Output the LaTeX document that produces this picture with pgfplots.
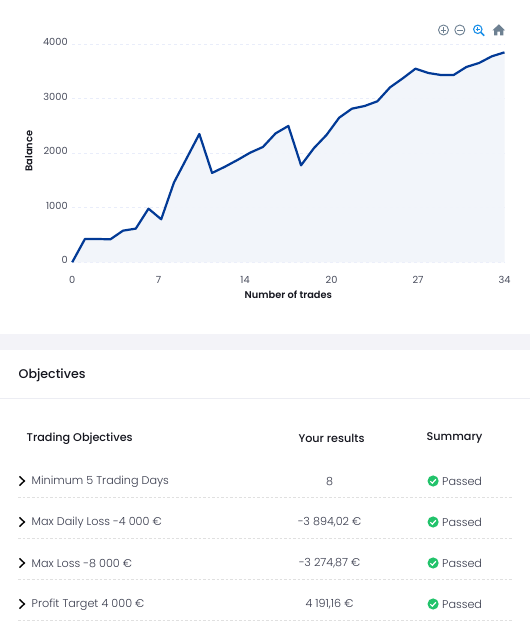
\documentclass[border=0pt]{standalone}
\usepackage{pgfplots}
\usepackage{pgfplotstable}
\usepackage{fontspec}
\pgfplotsset{compat=1.18}
\setmainfont{Poppins}[BoldFont={Poppins SemiBold}]
\newfontfamily\plight{Poppins Light}
\newfontfamily\pmed{Poppins Medium}
\definecolor{linec}{HTML}{023A96}
\definecolor{areac}{HTML}{F2F5FA}
\definecolor{gridc}{HTML}{E9EDFA}
\definecolor{tickc}{HTML}{4A4E5E}
\definecolor{rowc}{HTML}{383B4C}
\definecolor{okc}{HTML}{22C36B}
\definecolor{iconc}{HTML}{6E8192}
\definecolor{bandc}{HTML}{F3F3F8}
\definecolor{rulec}{HTML}{ECEDF3}
\definecolor{headc}{HTML}{15161F}
\definecolor{zoomc}{HTML}{1A8FE8}
\pgfplotstableread{
x y
0 0
1 427
2 427
3 421
4 580
5 617
6 983
7 788
8 1460
9 1905
10 2351
11 1637
12 1750
13 1875
14 2009
15 2113
16 2363
17 2498
18 1777
19 2089
20 2333
21 2650
22 2815
23 2864
24 2950
25 3206
26 3371
27 3548
28 3469
29 3432
30 3432
31 3579
32 3652
33 3774
34 3847
}\balance
\begin{document}
\begin{tikzpicture}[x=1pt,y=1pt]
\path[fill=white] (0,0) rectangle (529,625);
\begin{axis}[
  at={(71.7pt,362.7pt)},anchor=south west,
  scale only axis,width=432.3pt,height=218.3pt,
  xmin=0,xmax=34,ymin=0,ymax=4000,clip=false,
  axis line style={draw=none},tick style={draw=none},
  axis on top=false,
  xtick={0,6.8,13.6,20.4,27.2,34},xticklabels={0,7,14,20,27,34},
  ytick={0,1000,2000,3000,4000},
  ymajorgrids,
  grid style={gridc,dash pattern=on 3pt off 3pt,line width=0.7pt},
  tick label style={font=\fontsize{9.8}{11}\selectfont,text=tickc},
  /pgf/number format/assume math mode=true,
  /pgf/number format/1000 sep={},
  yticklabel style={xshift=-1pt,yshift=2pt},
  xticklabel style={yshift=-10.5pt},
  xlabel={Number of trades},ylabel={Balance},
  every axis x label/.style={at={(axis description cs:0.5,0)},anchor=center,yshift=-32pt,font=\fontsize{9.8}{11}\bfseries,text=headc},
  every axis y label/.style={at={(axis description cs:0,0.51)},anchor=center,rotate=90,yshift=43.5pt,font=\fontsize{9.8}{11}\bfseries,text=headc},
]
\addplot[draw=none,fill=areac,fill opacity=0.95] table[x=x,y=y]{\balance} \closedcycle;
\addplot[linec,line width=2.2pt,line join=round] table[x=x,y=y]{\balance};
\end{axis}
\begin{scope}[shift={(0,625)},y=-1pt,x=1pt]
% toolbar icons
\draw[iconc,line width=0.9pt] (443,30) circle (5);
\draw[iconc,line width=0.9pt] (440.2,30)--(445.8,30) (443,27.2)--(443,32.8);
\draw[iconc,line width=0.9pt] (459.3,30) circle (5);
\draw[iconc,line width=0.9pt] (456.5,30)--(462.1,30);
\draw[zoomc,line width=1.1pt] (477.3,29.3) circle (4.2);
\draw[zoomc,line width=1.6pt] (480.5,32.5)--(483.7,35.7);
\draw[zoomc,line width=0.7pt] (475.3,29.3)--(479.3,29.3) (477.3,27.3)--(477.3,31.3);
\fill[iconc] (498.3,24.3)--(504.7,30.5)--(502.9,30.5)--(502.9,35.5)--(499.7,35.5)--(499.7,31.7)--(496.9,31.7)--(496.9,35.5)--(493.7,35.5)--(493.7,30.5)--(491.9,30.5)--cycle;
% band and rules
\fill[bandc] (0,334) rectangle (529,350);
\draw[rulec,line width=1pt] (0,398.7)--(529,398.7);
\node[anchor=west,inner sep=0pt,font=\fontsize{12.6}{14}\pmed,text=headc] at (18,375) {Objectives};
\node[anchor=west,inner sep=0pt,font=\fontsize{11.2}{12}\pmed,text=headc] at (26,438.4) {Trading Objectives};
\node[anchor=center,font=\fontsize{11.2}{12}\pmed,text=headc] at (331,438.4) {Your results};
\node[anchor=center,font=\fontsize{11.2}{12}\pmed,text=headc] at (454,438.4) {Summary};
\foreach \yy/\lab/\res in {481/Minimum 5 Trading Days/8,
  522/Max Daily Loss -4 000 €/−3 894{,}02 €,
  563/Max Loss -8 000 €/−3 274{,}87 €,
  604/Profit Target 4 000 €/4 191{,}16 €}{
  \draw[black,line width=1.4pt] (19,\yy-4.6)--(23.8,\yy)--(19,\yy+4.6);
  \node[anchor=west,inner sep=0pt,font=\fontsize{11.2}{12}\plight,text=rowc] at (31,\yy+0.6) {\lab};
  \node[anchor=center,inner sep=0pt,font=\fontsize{11.2}{12}\plight,text=rowc] at (329,\yy+0.6) {\res};
  \fill[okc] (432.6,\yy) circle (5.6);
  \draw[white,line width=1.2pt] (429.8,\yy+0.2)--(431.8,\yy+2.2)--(435.4,\yy-1.8);
  \node[anchor=west,inner sep=0pt,font=\fontsize{11.2}{12}\plight,text=rowc] at (441.5,\yy+0.6) {Passed};
  \draw[black!12,line width=0.7pt,dash pattern=on 2.5pt off 2pt] (18,\yy+16.3)--(511.7,\yy+16.3);
}
\end{scope}
\end{tikzpicture}
\end{document}
